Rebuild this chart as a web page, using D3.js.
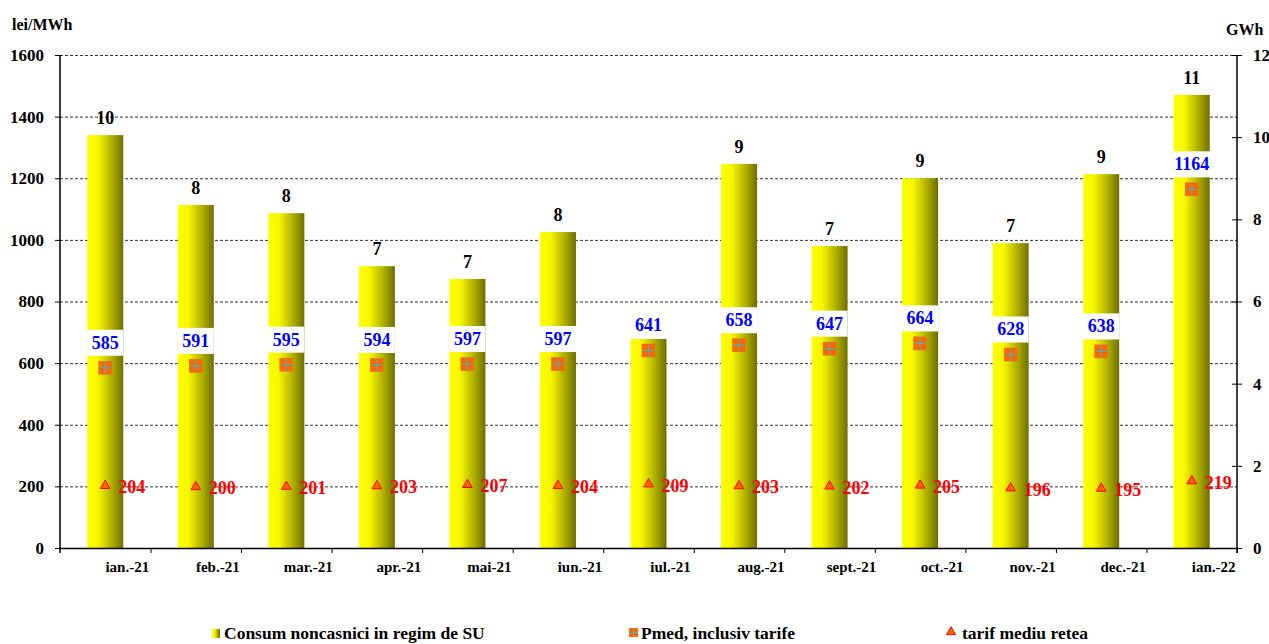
<!DOCTYPE html>
<html><head><meta charset="utf-8">
<script src="https://cdn.jsdelivr.net/npm/d3@7"></script>
<style>
html,body{margin:0;padding:0;background:#fff;}
svg{display:block;}
svg text{font-family:"Liberation Serif","Times New Roman",serif;font-weight:bold;}
</style></head>
<body><svg id="c" width="1269" height="644"></svg>
<script>
const categories = ["ian.-21","feb.-21","mar.-21","apr.-21","mai-21","iun.-21","iul.-21","aug.-21","sept.-21","oct.-21","nov.-21","dec.-21","ian.-22"];
const consumGWh = [10.05, 8.35, 8.15, 6.86, 6.55, 7.69, 5.09, 9.35, 7.35, 9.0, 7.42, 9.1, 11.03];
const pmed = [585, 591, 595, 594, 597, 597, 641, 658, 647, 664, 628, 638, 1164];
const tarif = [204, 200, 201, 203, 207, 204, 209, 203, 202, 205, 196, 195, 219];
const leftTicks = [0,200,400,600,800,1000,1200,1400,1600];
const rightTicks = [0,2,4,6,8,10,12];
const legendLabels = ["Consum noncasnici in regim de SU","Pmed, inclusiv tarife","tarif mediu retea"];

const FONT = "Liberation Serif";
const svg = d3.select("#c");
const L = 60, R = 1237, T = 55, B = 548;

const x = d3.scaleBand().domain(categories).range([L, R]).paddingInner(0).paddingOuter(0);
const yL = d3.scaleLinear().domain([0,1600]).range([B, T]);
const yR = d3.scaleLinear().domain([0,12]).range([B, T]);
const barW = 36;
const cx = i => x(categories[i]) + x.bandwidth()/2;

const defs = svg.append("defs");
const g = defs.append("linearGradient").attr("id","barGrad").attr("x1","0").attr("x2","1").attr("y1","0").attr("y2","0");
g.append("stop").attr("offset","0").attr("stop-color","#ffff00");
g.append("stop").attr("offset","0.3").attr("stop-color","#f6f600");
g.append("stop").attr("offset","0.65").attr("stop-color","#b5b500");
g.append("stop").attr("offset","1").attr("stop-color","#6f6f00");

// gridlines
svg.append("g").selectAll("line").data(leftTicks.filter(d=>d>0)).join("line")
  .attr("x1", L).attr("x2", R).attr("y1", d=>yL(d)+0.5).attr("y2", d=>yL(d)+0.5)
  .attr("stroke","#333").attr("stroke-width",1).attr("stroke-dasharray","3,2");

// bars
svg.append("g").selectAll("rect").data(consumGWh).join("rect")
  .attr("x",(d,i)=>cx(i)-barW/2)
  .attr("width",barW)
  .attr("y",d=>yR(d)).attr("height",d=>B-yR(d))
  .attr("fill","url(#barGrad)");

// bar labels (hidden where the Pmed label box covers them, as in the original)
svg.append("g").selectAll("text").data(consumGWh.map((d,i)=>({d,i})).filter(o=>yR(o.d)-11 < yL(pmed[o.i])-40)).join("text")
  .attr("x",o=>cx(o.i))
  .attr("y",o=>yR(o.d)-11)
  .attr("text-anchor","middle").attr("font-size",18).attr("font-family",FONT).attr("font-weight","bold").attr("fill","#000")
  .text(o=>d3.format(".0f")(o.d));

// axes
const axL = svg.append("g").attr("transform",`translate(${L},0)`)
  .call(d3.axisLeft(yL).tickValues(leftTicks).tickFormat(d3.format("d")).tickSize(5).tickPadding(11));
axL.select(".domain").attr("stroke","#000").attr("stroke-width",1.5).attr("d",`M0,${T}V${B+5}`);
axL.selectAll("text").attr("font-size",17).attr("font-family",FONT).attr("font-weight","bold").attr("fill","#000");
axL.selectAll("line").attr("stroke","#000");

const axR = svg.append("g").attr("transform",`translate(${R},0)`)
  .call(d3.axisRight(yR).tickValues(rightTicks).tickFormat(d3.format("d")).tickSize(5).tickPadding(11));
axR.select(".domain").attr("stroke","#000").attr("stroke-width",1.5).attr("d",`M0,${T}V${B+5}`);
axR.selectAll(".tick line").attr("x1",-5).attr("x2",5).attr("stroke","#000");
axR.selectAll("text").attr("font-size",17).attr("font-family",FONT).attr("font-weight","bold").attr("fill","#000");

// bottom axis
svg.append("line").attr("x1",L).attr("x2",R).attr("y1",B+0.5).attr("y2",B+0.5).attr("stroke","#000").attr("stroke-width",1.5);
svg.append("g").selectAll("line").data(categories).join("line")
  .attr("x1",d=>x(d)+x.bandwidth()+0.5).attr("x2",d=>x(d)+x.bandwidth()+0.5)
  .attr("y1",B).attr("y2",B+5).attr("stroke","#000");
svg.append("g").selectAll("text").data(categories).join("text")
  .attr("x",d=>x(d)+x.bandwidth()/2+22).attr("y",B+24)
  .attr("text-anchor","middle").attr("font-size",15).attr("font-family",FONT).attr("font-weight","bold").attr("fill","#000").text(d=>d);

// Pmed labels with white boxes
const pg = svg.append("g");
pmed.forEach((v,i)=>{
  const c = cx(i), cy = yL(v);
  const w = Math.max(barW, String(v).length*9.5+2);
  pg.append("rect").attr("x",c-w/2).attr("y",cy-38).attr("width",w).attr("height",26).attr("fill","#fff");
  pg.append("text").attr("x",c).attr("y",cy-19).attr("text-anchor","middle")
    .attr("font-size",18).attr("font-family",FONT).attr("font-weight","bold").attr("fill","#0000ff").text(v);
});

// Pmed markers
const mk = svg.append("g").selectAll("g").data(pmed).join("g")
  .attr("transform",(d,i)=>`translate(${cx(i)},${yL(d)})`);
mk.append("rect").attr("x",-6.5).attr("y",-6.5).attr("width",13).attr("height",13).attr("fill","#ff6600").attr("stroke","#e07020").attr("stroke-width",0.6);
mk.append("line").attr("x1",-6).attr("x2",6).attr("y1",0).attr("y2",0).attr("stroke","#4fb0b0").attr("stroke-width",1.2);
mk.append("line").attr("y1",-6).attr("y2",6).attr("x1",0).attr("x2",0).attr("stroke","#4fb0b0").attr("stroke-width",1.2);

// tarif markers
const tri = d3.symbol().type(d3.symbolTriangle).size(40);
svg.append("g").selectAll("path").data(tarif).join("path")
  .attr("d",tri)
  .attr("transform",(d,i)=>`translate(${cx(i)},${yL(d)+0.5})`)
  .attr("fill","#ff6600").attr("stroke","#ff0000").attr("stroke-width",1);
svg.append("g").selectAll("text").data(tarif).join("text")
  .attr("x",(d,i)=>cx(i)+13)
  .attr("y",d=>yL(d)+8)
  .attr("font-size",18).attr("font-family",FONT).attr("font-weight","bold").attr("fill","#ff0000").text(d=>d);

// axis titles
svg.append("text").attr("x",12).attr("y",30).attr("font-size",16).attr("font-family",FONT).attr("font-weight","bold").attr("fill","#000").text("lei/MWh");
svg.append("text").attr("x",1226).attr("y",35).attr("font-size",16).attr("font-family",FONT).attr("font-weight","bold").attr("fill","#000").text("GWh");

// legend
const lg = svg.append("g");
lg.append("rect").attr("x",212).attr("y",629).attr("width",8).attr("height",9).attr("fill","url(#barGrad)");
lg.append("text").attr("x",224).attr("y",639).attr("font-size",17.5).attr("font-family",FONT).attr("font-weight","bold").attr("fill","#000").text(legendLabels[0]);
lg.append("rect").attr("x",629).attr("y",628).attr("width",9).attr("height",9).attr("fill","#ff6600");
lg.append("line").attr("x1",633.5).attr("x2",633.5).attr("y1",628).attr("y2",637).attr("stroke","#4fb0b0");
lg.append("line").attr("x1",629).attr("x2",638).attr("y1",632.5).attr("y2",632.5).attr("stroke","#4fb0b0");
lg.append("text").attr("x",641).attr("y",639).attr("font-size",17.5).attr("font-family",FONT).attr("font-weight","bold").attr("fill","#000").text(legendLabels[1]);
lg.append("path").attr("d",d3.symbol().type(d3.symbolTriangle).size(36)).attr("transform","translate(951,632)").attr("fill","#ff6600").attr("stroke","#ff0000");
lg.append("text").attr("x",962).attr("y",639).attr("font-size",17.5).attr("font-family",FONT).attr("font-weight","bold").attr("fill","#000").text(legendLabels[2]);
</script></body></html>
